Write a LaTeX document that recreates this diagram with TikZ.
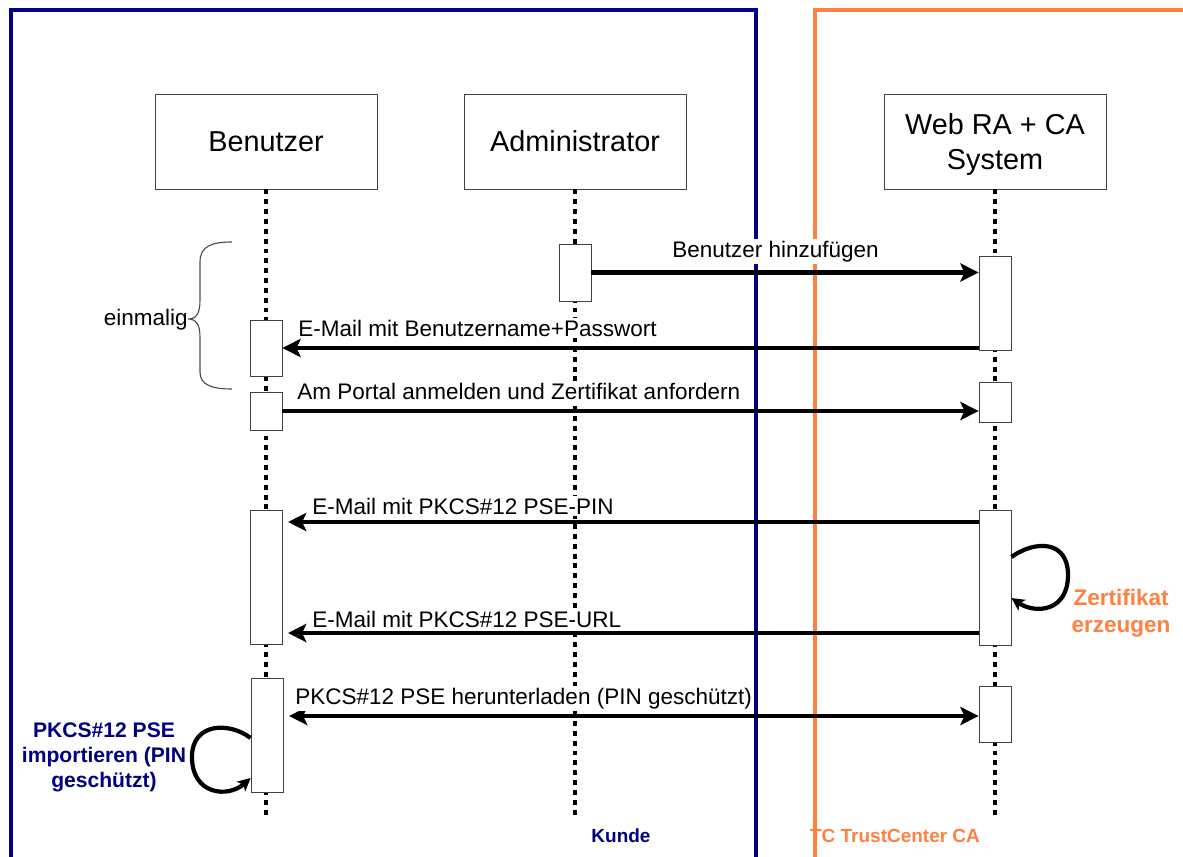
\documentclass[tikz,border=0pt]{standalone}
\usepackage{fontspec}
\setmainfont{Liberation Sans}
\usetikzlibrary{arrows.meta}
\definecolor{kunde}{RGB}{0,0,128}
\definecolor{trustcenter}{RGB}{255,128,64}

\begin{document}
\begin{tikzpicture}[x=0.025cm, y=-0.025cm,
    >={Stealth[length=13pt,width=13pt,inset=3pt]},
    actor/.style={draw=black!75, line width=0.6pt, fill=white, minimum width=5.55cm, minimum height=2.375cm, align=center, font=\fontsize{20.5}{24.5}\selectfont},
    act/.style={draw=black!75, line width=0.6pt, fill=white, minimum width=0.8cm, inner sep=0pt},
    life/.style={line width=3.4pt, dash pattern=on 3.5pt off 3.5pt},
    msg/.style={->, line width=3.2pt},
    selfcall/.style={line width=3pt, -{Stealth[length=9pt,width=9pt,inset=2pt]}},
    lbl/.style={fill=white, inner sep=1.5pt, anchor=base west, font=\fontsize{16}{19}\selectfont},
    curly/.style={draw=black!70, line width=0.8pt}]
    \useasboundingbox (0,0) rectangle (1183,856);

    % Kunde / TC TrustCenter
    \draw[kunde, line width=3.5pt] (11,870) -- (11,10) -- (756,10) -- (756,870);
    \draw[trustcenter, line width=3.5pt] (815,870) -- (815,10) -- (1200,10);
    \node[kunde, anchor=base, font=\fontsize{13.5}{16}\selectfont\bfseries] (kd) at (621,842) {Kunde};
    \node[trustcenter, anchor=base, font=\fontsize{13.5}{16}\selectfont\bfseries] (tc) at (895,842) {TC TrustCenter CA};

    \node[actor] (ben) at (266,141.5) {Benutzer};
    \node[actor] (adm) at (575,141.5) {Administrator};
    \node[actor] (web) at (995,141.5) {\rule{0pt}{19.5pt}Web RA + CA\\System};

    \coordinate (benend) at (266,815);
    \coordinate (admend) at (575,815);
    \coordinate (webend) at (995,815);
    \draw[life] (ben.south) -- (benend);
    \draw[life] (adm.south) -- (admend);
    \draw[life] (web.south) -- (webend);

    \node[act, minimum height=1.425cm] (adm1) at (575,272.5) {};
    \node[act, minimum height=2.35cm] (web1) at (995,303) {};
    \node[act, minimum height=1.4cm] (ben1) at (266,348) {};
    \node[act, minimum height=0.95cm] (ben2) at (266,411) {};
    \node[act, minimum height=1cm] (web2) at (995,402) {};
    \node[act, minimum height=3.35cm] (ben3) at (266,577) {};
    \node[act, minimum height=3.375cm] (web3) at (995,577.5) {};
    \node[act, minimum height=2.85cm] (ben4) at (267,735) {};
    \node[act, minimum height=1.4cm] (web4) at (995,714) {};

    \draw[msg] (adm1.east) -- (adm1.east -| web1.west);
    \node[lbl] (hinzu) at (670,257) {Benutzer hinzufügen};
    \draw[msg] (web1.west |- ben1.east) -- (ben1.east);
    \node[lbl] (mailpw) at (296,336) {E-Mail mit Benutzername+Passwort};
    \draw[msg] (ben2.east) -- (ben2.east -| web2.west);
    \node[lbl] (portal) at (295,399) {Am Portal anmelden und Zertifikat anfordern};
    \draw[msg, shorten >=4pt] (web3.west |- 0,522) -- (ben3.east |- 0,522);
    \node[lbl] (mailpin) at (310,514) {E-Mail mit PKCS\#12 PSE-PIN};
    \draw[msg, shorten >=4pt] (web3.west |- 0,633) -- (ben3.east |- 0,633);
    \node[lbl] (mailurl) at (310,627) {E-Mail mit PKCS\#12 PSE-URL};
    \draw[msg, <->, shorten <=4pt] (ben4.east |- 0,716) -- (web4.west |- 0,716);
    \node[lbl] (laden) at (293,704) {PKCS\#12 PSE herunterladen (PIN geschützt)};

    \draw[selfcall] (web3.east |- 0,557) .. controls (1035,540) and (1068,540) .. (1068,575)
        .. controls (1068,612) and (1035,614) .. (web3.east |- 0,598);
    \node[trustcenter, align=center, font=\fontsize{16}{19}\selectfont\bfseries] (erz) at (1121,613) {Zertifikat\\erzeugen};

    \draw[selfcall] (ben4.west |- 0,738) .. controls (230,722) and (192,722) .. (192,757)
        .. controls (192,795) and (228,798) .. (ben4.west |- 0,778);
    \node[kunde, align=center, font=\fontsize{15}{17.8}\selectfont\bfseries] (imp) at (104,757) {PKCS\#12 PSE\\importieren (PIN\\geschützt)};

    \draw[curly] (232,242) .. controls (212,242) and (200,246) .. (200,262) -- (200,300)
        .. controls (200,314) and (196,319) .. (188,319)
        .. controls (196,319) and (200,324) .. (200,338) -- (200,372)
        .. controls (200,385) and (212,389) .. (232,389);
    \node[inner sep=0pt, anchor=base east, font=\fontsize{16}{19}\selectfont] (once) at (188,325) {einmalig};
\end{tikzpicture}
\end{document}
